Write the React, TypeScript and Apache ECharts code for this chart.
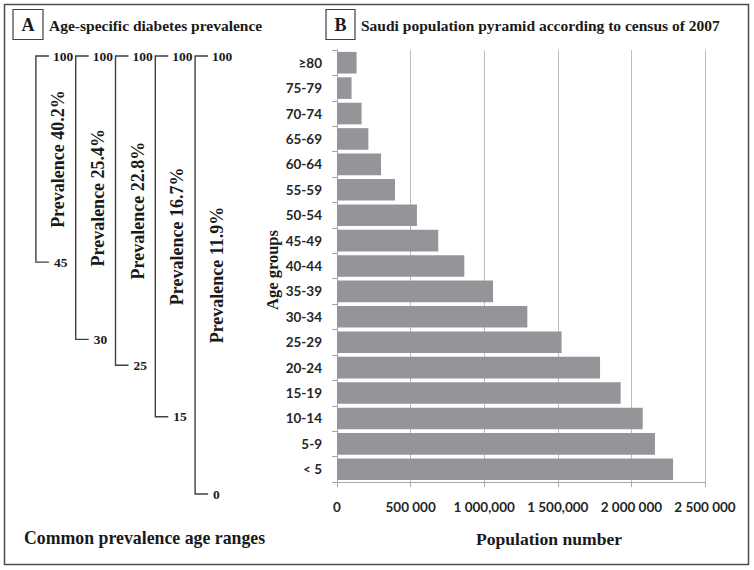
import React, { useEffect, useRef } from "react";
import * as echarts from "echarts";

// ---- Panel B data ----
const ageGroups = ["< 5", "5-9", "10-14", "15-19", "20-24", "25-29", "30-34", "35-39", "40-44", "45-49", "50-54", "55-59", "60-64", "65-69", "70-74", "75-79", "≥80"];
const population = [2283000, 2160000, 2077000, 1927000, 1787000, 1526000, 1293000, 1060000, 865000, 688000, 543000, 394000, 299000, 213000, 167000, 99000, 133000];
const xTickLabels = ["0", "500 000", "1 000,000", "1 500,000", "2 000 000", "2 500 000"];

// ---- Panel A data ----
const prevalenceLabels = ["Prevalence 40.2%", "Prevalence 25.4%", "Prevalence 22.8%", "Prevalence 16.7%", "Prevalence 11.9%"];
const rangeLow = [45, 30, 25, 15, 0];
const rangeHigh = [100, 100, 100, 100, 100];

const SERIF = "'Liberation Serif', 'Times New Roman', serif";
const SANS = "Lato, 'Open Sans', sans-serif";
const A_AXIS_MAX = 85; // top of the (broken) age scale in panel A

export default function App() {
  const ref = useRef<HTMLDivElement>(null);
  useEffect(() => {
    if (!ref.current) return;
    const chart = echarts.init(ref.current, undefined, { renderer: "svg" });
    const bracketData = rangeLow.map((lo, i) => [i, lo, rangeHigh[i]]);
    const lineColor = "#404040";
    const textColor = "#1a1a1a";
    chart.setOption({
      animation: false,
      backgroundColor: "#ffffff",
      grid: [
        { left: 16, top: 56, width: 199, height: 438 },
        { left: 337, right: 49, top: 50, bottom: 88 },
      ],
      xAxis: [
        { gridIndex: 0, type: "value", min: -0.5, max: 4.5, show: false },
        {
          gridIndex: 1,
          type: "value",
          min: 0,
          max: 2500000,
          interval: 500000,
          axisLine: { show: true, lineStyle: { color: "#a6a6a6", width: 1 } },
          axisTick: { show: true, length: 5, lineStyle: { color: "#a6a6a6" } },
          splitLine: { show: true, lineStyle: { color: "#bdbdbd", width: 1 } },
          axisLabel: {
            margin: 18,
            fontFamily: SANS,
            fontWeight: "bold",
            fontSize: 13.5,
            color: "#262626",
            formatter: (v: number) => xTickLabels[Math.round(v / 500000)] ?? "",
          },
        },
      ],
      yAxis: [
        { gridIndex: 0, type: "value", min: 0, max: A_AXIS_MAX, show: false },
        {
          gridIndex: 1,
          type: "category",
          data: ageGroups,
          axisLine: { show: true, lineStyle: { color: "#a6a6a6", width: 1 } },
          axisTick: { show: true, length: 5, lineStyle: { color: "#a6a6a6" } },
          axisLabel: {
            margin: 15,
            fontFamily: SANS,
            fontWeight: "bold",
            fontSize: 13.5,
            color: "#262626",
          },
        },
      ],
      series: [
        {
          type: "custom",
          xAxisIndex: 0,
          yAxisIndex: 0,
          data: bracketData,
          renderItem: (params: any, api: any) => {
            const i = api.value(0);
            const lo = api.value(1);
            const hi = api.value(2);
            const [x, yBot] = api.coord([i, lo]);
            const [, yTop] = api.coord([i, Math.min(hi, A_AXIS_MAX)]);
            const font = `bold 13.5px ${SERIF}`;
            return {
              type: "group",
              children: [
                {
                  type: "polyline",
                  shape: { points: [[x + 13, yTop], [x, yTop], [x, yBot], [x + 13, yBot]] },
                  style: { stroke: lineColor, lineWidth: 1.4, fill: "none" },
                },
                {
                  type: "text",
                  x: x + 17,
                  y: yTop,
                  style: { text: String(hi), font, fill: textColor, align: "left", verticalAlign: "middle" },
                },
                {
                  type: "text",
                  x: x + 18,
                  y: yBot,
                  style: { text: String(lo), font, fill: textColor, align: "left", verticalAlign: "middle" },
                },
                {
                  type: "text",
                  x: x + 22,
                  y: (yTop + yBot) / 2,
                  rotation: Math.PI / 2,
                  style: {
                    text: prevalenceLabels[params.dataIndex],
                    font: `bold 18px ${SERIF}`,
                    fill: textColor,
                    align: "center",
                    verticalAlign: "middle",
                  },
                },
              ],
            };
          },
        },
        {
          type: "bar",
          xAxisIndex: 1,
          yAxisIndex: 1,
          data: population,
          barCategoryGap: "15%",
          itemStyle: { color: "#949599" },
        },
      ],
      graphic: [
        {
          type: "rect",
          shape: { x: 4.5, y: 4.5, width: 744, height: 560 },
          style: { fill: "none", stroke: "#4d4d4d", lineWidth: 1.5 },
          silent: true,
        },
        {
          type: "rect",
          shape: { x: 13, y: 9.5, width: 30, height: 30 },
          style: { fill: "none", stroke: "#404040", lineWidth: 1.2 },
        },
        {
          type: "text",
          x: 28,
          y: 25,
          style: { text: "A", font: `bold 18px ${SERIF}`, fill: textColor, align: "center", verticalAlign: "middle" },
        },
        {
          type: "text",
          x: 49,
          y: 25,
          style: { text: "Age-specific diabetes prevalence", font: `bold 15.5px ${SERIF}`, fill: textColor, align: "left", verticalAlign: "middle" },
        },
        {
          type: "rect",
          shape: { x: 326, y: 9.5, width: 29, height: 30 },
          style: { fill: "none", stroke: "#404040", lineWidth: 1.2 },
        },
        {
          type: "text",
          x: 340.5,
          y: 25,
          style: { text: "B", font: `bold 18px ${SERIF}`, fill: textColor, align: "center", verticalAlign: "middle" },
        },
        {
          type: "text",
          x: 361,
          y: 25,
          style: { text: "Saudi population pyramid according to census of 2007", font: `bold 15.5px ${SERIF}`, fill: textColor, align: "left", verticalAlign: "middle" },
        },
        {
          type: "text",
          x: 24,
          y: 538,
          style: { text: "Common prevalence age ranges", font: `bold 17.8px ${SERIF}`, fill: textColor, align: "left", verticalAlign: "middle" },
        },
        {
          type: "text",
          x: 549,
          y: 539,
          style: { text: "Population number", font: `bold 17.6px ${SERIF}`, fill: textColor, align: "center", verticalAlign: "middle" },
        },
        {
          type: "text",
          x: 272,
          y: 270,
          rotation: Math.PI / 2,
          style: { text: "Age groups", font: `bold 16.5px ${SERIF}`, fill: textColor, align: "center", verticalAlign: "middle" },
        },
      ],
    });
    return () => chart.dispose();
  }, []);
  return <div ref={ref} style={{ position: "fixed", left: 0, top: 0, width: 754, height: 570 }} />;
}
